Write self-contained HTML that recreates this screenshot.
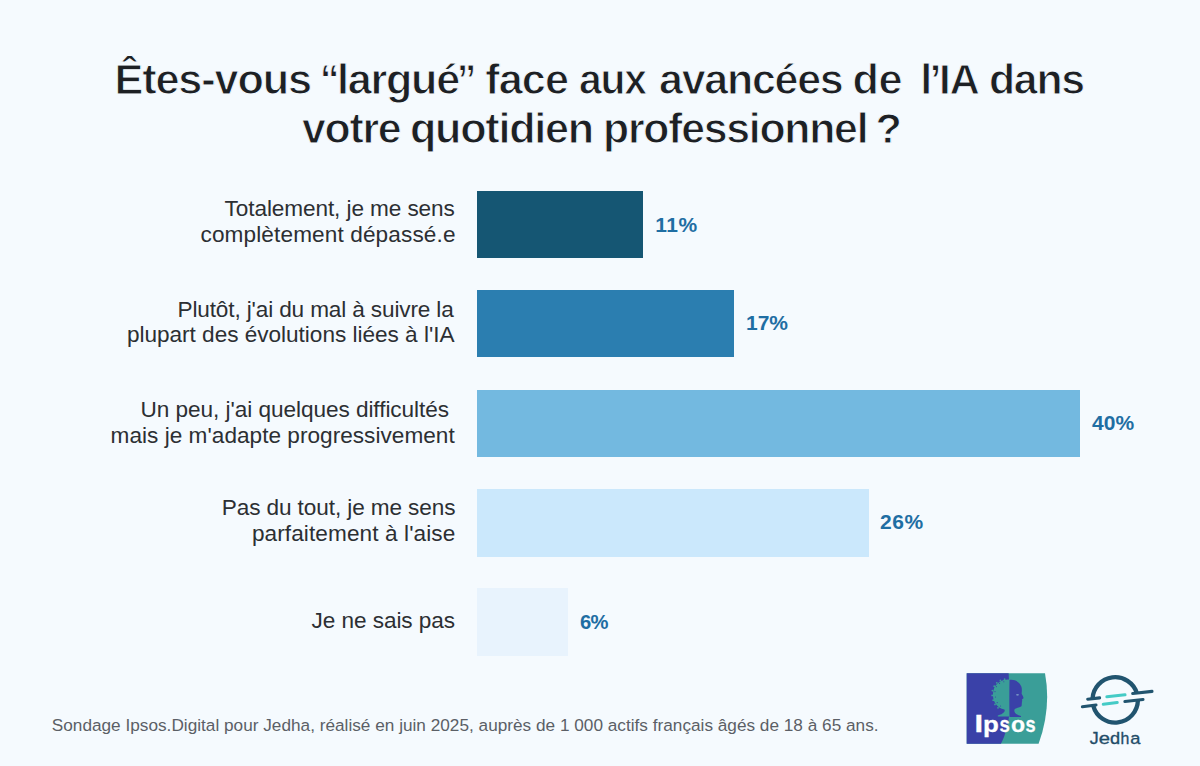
<!DOCTYPE html>
<html lang="fr"><head><meta charset="utf-8"><title>Êtes-vous “largué” face aux avancées de l’IA ?</title>
<style>
html,body{margin:0;padding:0}
body{width:1200px;height:766px;position:relative;overflow:hidden;background:#f5fafe;font-family:"Liberation Sans",sans-serif}
div{position:absolute;white-space:pre}
.title{font-weight:bold;color:#1d2024;-webkit-text-stroke:1px #f5fafe}
.lab{color:#2c2f33}
.val{font-weight:bold;color:#1f6ea3}
.foot{color:#5b5f66}
.bar{left:477.3px}
svg{position:absolute;left:0;top:0}
</style></head><body>
<div class="title" style="left:114.50px;top:55.00px;font-size:43.2px;line-height:48px;letter-spacing:-1.125px;">Êtes-vous</div>
<div class="title" style="left:320.18px;top:55.00px;font-size:43.2px;line-height:48px;letter-spacing:0.000px;transform:scaleX(0.8929);transform-origin:0 0;">“</div>
<div class="title" style="left:336.51px;top:55.00px;font-size:43.2px;line-height:48px;letter-spacing:-1.250px;transform:scaleX(0.9979);transform-origin:0 0;">largué</div>
<div class="title" style="left:457.28px;top:55.00px;font-size:43.2px;line-height:48px;letter-spacing:0.000px;transform:scaleX(0.8900);transform-origin:0 0;">”</div>
<div class="title" style="left:485.25px;top:55.00px;font-size:43.2px;line-height:48px;letter-spacing:-0.917px;">face</div>
<div class="title" style="left:579.08px;top:55.00px;font-size:43.2px;line-height:48px;letter-spacing:-1.250px;transform:scaleX(0.9460);transform-origin:0 0;">aux</div>
<div class="title" style="left:658.51px;top:55.00px;font-size:43.2px;line-height:48px;letter-spacing:-1.250px;transform:scaleX(0.9945);transform-origin:0 0;">avancées</div>
<div class="title" style="left:852.50px;top:55.00px;font-size:43.2px;line-height:48px;letter-spacing:-0.500px;">de</div>
<div class="title" style="left:920.25px;top:55.00px;font-size:43.2px;line-height:48px;letter-spacing:0.000px;">l</div>
<div class="title" style="left:929.50px;top:55.00px;font-size:43.2px;line-height:48px;letter-spacing:0.000px;">’</div>
<div class="title" style="left:939.09px;top:55.00px;font-size:43.2px;line-height:48px;letter-spacing:-1.250px;transform:scaleX(0.9741);transform-origin:0 0;">IA</div>
<div class="title" style="left:988.78px;top:55.00px;font-size:43.2px;line-height:48px;letter-spacing:-1.250px;transform:scaleX(0.9892);transform-origin:0 0;">dans</div>
<div class="title" style="left:302.01px;top:104.00px;font-size:43.2px;line-height:48px;letter-spacing:-1.250px;transform:scaleX(0.9898);transform-origin:0 0;">votre</div>
<div class="title" style="left:410.00px;top:104.00px;font-size:43.2px;line-height:48px;letter-spacing:-1.250px;transform:scaleX(0.9986);transform-origin:0 0;">quotidien</div>
<div class="title" style="left:602.78px;top:104.00px;font-size:43.2px;line-height:48px;letter-spacing:-1.250px;transform:scaleX(0.9902);transform-origin:0 0;">professionnel</div>
<div class="title" style="left:875.50px;top:104.00px;font-size:43.2px;line-height:48px;letter-spacing:0.000px;">?</div>
<div class="lab" style="left:224.60px;top:196.00px;font-size:22.6px;line-height:25px;letter-spacing:-0.100px;">Totalement, je me sens</div>
<div class="lab" style="left:200.50px;top:222.00px;font-size:22.6px;line-height:25px;letter-spacing:0.119px;">complètement dépassé.e</div>
<div class="lab" style="left:177.50px;top:297.00px;font-size:22.6px;line-height:25px;letter-spacing:-0.143px;">Plutôt, j'ai du mal à suivre la</div>
<div class="lab" style="left:126.90px;top:322.00px;font-size:22.6px;line-height:25px;letter-spacing:-0.021px;">plupart des évolutions liées à l'IA</div>
<div class="lab" style="left:140.60px;top:397.00px;font-size:22.6px;line-height:25px;letter-spacing:-0.059px;">Un peu, j'ai quelques difficultés</div>
<div class="lab" style="left:110.60px;top:423.00px;font-size:22.6px;line-height:25px;letter-spacing:0.023px;">mais je m'adapte progressivement</div>
<div class="lab" style="left:221.75px;top:495.00px;font-size:22.6px;line-height:25px;letter-spacing:-0.107px;">Pas du tout, je me sens</div>
<div class="lab" style="left:251.90px;top:521.00px;font-size:22.6px;line-height:25px;letter-spacing:0.095px;">parfaitement à l'aise</div>
<div class="lab" style="left:311.50px;top:608.00px;font-size:22.6px;line-height:25px;letter-spacing:-0.062px;">Je ne sais pas</div>
<div class="val" style="left:655.30px;top:213.00px;font-size:21px;line-height:23px;letter-spacing:0.550px;">11%</div>
<div class="val" style="left:746.00px;top:311.00px;font-size:21px;line-height:23px;letter-spacing:-0.050px;">17%</div>
<div class="val" style="left:1091.90px;top:411.00px;font-size:21px;line-height:23px;letter-spacing:0.100px;">40%</div>
<div class="val" style="left:879.90px;top:510.00px;font-size:21px;line-height:23px;letter-spacing:0.600px;">26%</div>
<div class="val" style="left:579.84px;top:610.00px;font-size:21px;line-height:23px;letter-spacing:-0.700px;transform:scaleX(0.9611);transform-origin:0 0;">6%</div>
<div class="foot" style="left:51.80px;top:715.00px;font-size:17.2px;line-height:20px;letter-spacing:0.011px;">Sondage Ipsos.Digital pour Jedha, réalisé en juin 2025, auprès de 1 000 actifs français âgés de 18 à 65 ans.</div>
<div class="bar" style="top:191.0px;width:165.6px;height:67.0px;background:#155673"></div>
<div class="bar" style="top:290.1px;width:256.3px;height:67.3px;background:#2b7eb0"></div>
<div class="bar" style="top:389.7px;width:602.4px;height:67.4px;background:#73b9e0"></div>
<div class="bar" style="top:489.1px;width:391.5px;height:67.8px;background:#cbe8fc"></div>
<div class="bar" style="top:588.4px;width:90.6px;height:67.4px;background:#e8f3fd"></div>
<svg width="1200" height="766" viewBox="0 0 1200 766">
<defs>
<clipPath id="ipsosClip"><path d="M966.7 673.2 H1045 Q1051.5 708 1038.6 743.8 H966.7 Z"/></clipPath>
</defs>
<!-- Ipsos logo -->
<g clip-path="url(#ipsosClip)">
<rect x="960" y="670" width="95" height="80" fill="#3a9e98"/>
<!-- blue left panel with curved divider -->
<path d="M960 670 H1008.4 Q1010.2 695 1009.4 714 Q1007.5 731 1000.9 744 H960 Z" fill="#3a41a8"/>
<!-- tree crown (teal on blue) -->
<path d="M1009.3 679.6 C1003.4 679 996.8 682.2 994.2 688 C992.2 693 992.6 699.4 995.6 703.8 C997.6 706.8 1000.6 709 1004.4 709.6 C1005.6 711.4 1003.6 714 997.8 715.6 L997.8 716.6 H1009.6 Z" fill="#3a9e98"/>
<g fill="#3a9e98">
<circle cx="994.2" cy="686.2" r="0.9"/><circle cx="996.8" cy="682.8" r="0.9"/><circle cx="1000.4" cy="680.4" r="0.9"/><circle cx="1004.6" cy="679.2" r="0.9"/>
<circle cx="992.4" cy="690.6" r="0.9"/><circle cx="992.2" cy="695.4" r="0.9"/><circle cx="993.2" cy="700.2" r="0.9"/><circle cx="995" cy="704.4" r="0.9"/><circle cx="998" cy="707.8" r="0.9"/>
</g>
<g fill="#3a41a8">
<circle cx="996.4" cy="686.6" r="0.55"/><circle cx="999.6" cy="683.4" r="0.55"/><circle cx="1003.8" cy="681.8" r="0.55"/><circle cx="995" cy="691.6" r="0.55"/><circle cx="995.4" cy="697" r="0.55"/><circle cx="997.2" cy="702.6" r="0.55"/><circle cx="1000.6" cy="706" r="0.55"/>
</g>
<!-- face profile (blue on teal) -->
<path transform="translate(0.2 0.6)" d="M1009.3 679.4 C1014.5 678.6 1019.6 681.4 1021.2 686.2 C1022 688.8 1021.6 691.2 1021.4 693 C1022 694.6 1023.4 696.4 1023.3 697.4 C1023.2 698.2 1022 698.4 1021.8 698.9 C1021.8 699.8 1022.3 700.4 1021.8 701 C1021.5 701.5 1021.9 702.2 1021.6 702.9 C1021.4 703.6 1021.8 704.6 1021.2 705.6 C1020.4 706.8 1017.5 706.6 1014.6 708.4 C1013.4 710.6 1014.2 713.6 1020.8 715.3 L1020.8 716.3 H1009.3 Z" fill="#3a41a8"/>
<ellipse cx="1017.5" cy="694.8" rx="1.5" ry="0.65" fill="#8fb5cf"/>
<g id="ipsosText"><text transform="translate(974.55 732.0) scale(1.257 1.0)" font-family="Liberation Sans, sans-serif" font-weight="bold" font-size="24.6" fill="#ffffff" stroke="#ffffff" stroke-width="0.3">I</text>
<text transform="translate(983.11 732.0) scale(1.053 0.93)" font-family="Liberation Sans, sans-serif" font-weight="bold" font-size="24.6" fill="#ffffff" stroke="#ffffff" stroke-width="0.3">p</text>
<text transform="translate(999.59 732.0) scale(0.757 0.93)" font-family="Liberation Sans, sans-serif" font-weight="bold" font-size="24.6" fill="#ffffff" stroke="#ffffff" stroke-width="0.3">s</text>
<text transform="translate(1010.91 732.0) scale(0.938 0.93)" font-family="Liberation Sans, sans-serif" font-weight="bold" font-size="24.6" fill="#ffffff" stroke="#ffffff" stroke-width="0.3">o</text>
<text transform="translate(1025.51 732.0) scale(0.740 0.93)" font-family="Liberation Sans, sans-serif" font-weight="bold" font-size="24.6" fill="#ffffff" stroke="#ffffff" stroke-width="0.3">s</text></g>
</g>
<!-- Jedha logo -->
<g fill="none" stroke="#21546f" stroke-linecap="round">
<path d="M1092.5 698.9 A22.7 22.7 0 0 1 1136.9 693.3" stroke-width="4.3" stroke-linecap="butt"/>
<path d="M1093.3 705.9 A22.7 22.7 0 0 0 1137.9 700.4" stroke-width="4.3" stroke-linecap="butt"/>
<g stroke-width="3.1">
<path d="M1087.7 699.2 L1099.6 697.9"/>
<path d="M1082.4 706.8 L1096 705"/>
<path d="M1132.7 693.5 L1152 691.4"/>
<path d="M1124.9 701.5 L1143 699.5"/>
</g>
<g stroke="#45cbc6" stroke-width="3.1">
<path d="M1106.9 696.8 L1125 694.8"/>
<path d="M1103.3 704.3 L1117.2 702.5"/>
</g>
</g>
<g id="jedhaText"><text transform="translate(1089.82 743.8) scale(1.036 1.0)" font-family="Liberation Sans, sans-serif" font-weight="normal" font-size="17.3" fill="#1f4c68" stroke="#1f4c68" stroke-width="0.35">J</text>
<text transform="translate(1098.80 743.8) scale(1.169 0.94)" font-family="Liberation Sans, sans-serif" font-weight="normal" font-size="17.3" fill="#1f4c68" stroke="#1f4c68" stroke-width="0.35">e</text>
<text transform="translate(1109.99 743.8) scale(1.052 1.0)" font-family="Liberation Sans, sans-serif" font-weight="normal" font-size="17.3" fill="#1f4c68" stroke="#1f4c68" stroke-width="0.35">d</text>
<text transform="translate(1120.43 743.8) scale(0.917 1.0)" font-family="Liberation Sans, sans-serif" font-weight="normal" font-size="17.3" fill="#1f4c68" stroke="#1f4c68" stroke-width="0.35">h</text>
<text transform="translate(1130.18 743.8) scale(1.057 0.94)" font-family="Liberation Sans, sans-serif" font-weight="normal" font-size="17.3" fill="#1f4c68" stroke="#1f4c68" stroke-width="0.35">a</text></g>
</svg>

</body></html>
